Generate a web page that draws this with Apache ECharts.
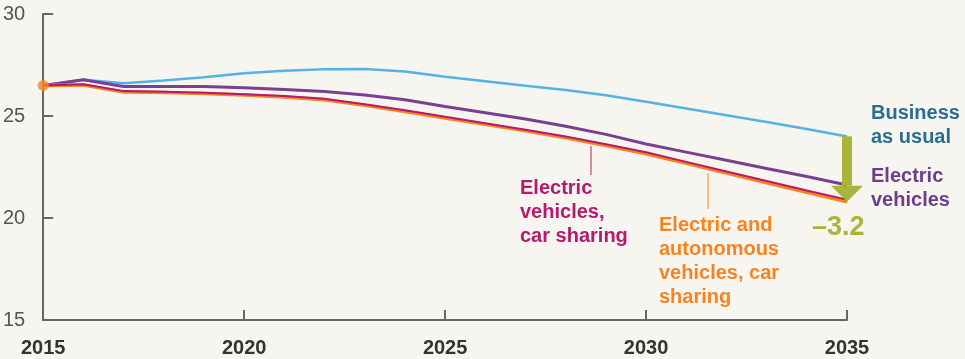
<!DOCTYPE html>
<html>
<head>
<meta charset="utf-8">
<script src="https://cdn.jsdelivr.net/npm/echarts@6/dist/echarts.min.js"></script>
<style>
  html, body { margin: 0; padding: 0; background: #f6f5ef; }
  #chart { width: 965px; height: 359px; }
</style>
</head>
<body>
<div id="chart"></div>
<script>
// Years on the horizontal axis
const years = [2015, 2016, 2017, 2018, 2019, 2020, 2021, 2022, 2023, 2024, 2025,
               2026, 2027, 2028, 2029, 2030, 2031, 2032, 2033, 2034, 2035];

// Scenario values
const businessAsUsual = [26.5, 26.78, 26.6, 26.74, 26.9, 27.1, 27.22, 27.29, 27.3, 27.18, 26.92,
                         26.7, 26.48, 26.28, 26.02, 25.7, 25.37, 25.04, 24.71, 24.36, 24.0];
const electricVehicles = [26.5, 26.78, 26.45, 26.45, 26.45, 26.38, 26.3, 26.2, 26.03, 25.8, 25.47,
                          25.16, 24.85, 24.5, 24.1, 23.63, 23.23, 22.83, 22.43, 22.03, 21.62];
const evCarSharing = [26.5, 26.56, 26.22, 26.19, 26.14, 26.07, 25.98, 25.85, 25.58, 25.28, 24.96,
                      24.65, 24.33, 23.99, 23.62, 23.22, 22.75, 22.28, 21.81, 21.35, 20.9];
const evAvCarSharing = [26.5, 26.52, 26.18, 26.15, 26.1, 26.03, 25.93, 25.8, 25.52, 25.22, 24.9,
                        24.59, 24.27, 23.93, 23.55, 23.15, 22.68, 22.2, 21.73, 21.26, 20.8];

const xTicks = [2015, 2020, 2025, 2030, 2035];
const yTicks = [15, 20, 25, 30];

const pair = (vals) => years.map((y, i) => [y, vals[i]]);
const last = years.length - 1;
const gap = evAvCarSharing[last] - businessAsUsual[last];
const gapText = '\u2013' + Math.abs(gap).toFixed(1);

const FONT = '"Liberation Sans", Arial, Helvetica, sans-serif';
const chart = echarts.init(document.getElementById('chart'));

chart.setOption({
  backgroundColor: '#f6f5ef',
  animation: false,
  grid: { left: 43, right: 118, top: 14, bottom: 39 },
  xAxis: {
    type: 'value', min: 2015, max: 2035, interval: 5,
    axisLine: { lineStyle: { color: '#666', width: 2 } },
    axisTick: { inside: true, length: 10, lineStyle: { color: '#666', width: 2 } },
    splitLine: { show: false },
    axisLabel: {
      margin: 18, fontFamily: FONT, fontSize: 20, fontWeight: 'bold', color: '#333',
      formatter: v => xTicks.includes(v) ? String(v) : ''
    }
  },
  yAxis: {
    type: 'value', min: 15, max: 30, interval: 5,
    axisLine: { show: true, lineStyle: { color: '#666', width: 2 } },
    axisTick: { show: true, inside: true, length: 10, lineStyle: { color: '#666', width: 2 } },
    splitLine: { show: false },
    axisLabel: {
      margin: 18, fontFamily: FONT, fontSize: 20, color: '#555',
      formatter: v => yTicks.includes(v) ? String(v) : ''
    }
  },
  series: [
    { type: 'line', data: pair(businessAsUsual), showSymbol: false, z: 2,
      lineStyle: { color: '#55b2e4', width: 2.5 } },
    { type: 'line', data: pair(electricVehicles), showSymbol: false, z: 3,
      lineStyle: { color: '#7a4090', width: 3 } },
    { type: 'line', data: pair(evAvCarSharing), showSymbol: false, z: 4,
      lineStyle: { color: '#f7841f', width: 3.5 } },
    { type: 'line', data: pair(evCarSharing), showSymbol: false, z: 5,
      lineStyle: { color: '#b51a6c', width: 2 } },
    { type: 'scatter', data: [[years[0], evAvCarSharing[0]]], symbolSize: 11, z: 6,
      itemStyle: { color: '#f7841f' } },
    {
      // Downward arrow from business-as-usual to the lowest scenario in the final year
      type: 'custom', z: 7,
      data: [[years[last], businessAsUsual[last], evAvCarSharing[last]]],
      renderItem: (params, api) => {
        const top = api.coord([api.value(0), api.value(1)]);
        const tip = api.coord([api.value(0), api.value(2)]);
        const headH = 16, headW = 16, barW = 5;
        const x = top[0];
        return {
          type: 'group',
          children: [
            { type: 'rect', shape: { x: x - barW, y: top[1], width: barW * 2, height: tip[1] - headH - top[1] },
              style: { fill: '#a9b537' } },
            { type: 'polygon', shape: { points: [[x - headW, tip[1] - headH], [x + headW, tip[1] - headH], [x, tip[1]]] },
              style: { fill: '#a9b537' } }
          ]
        };
      }
    }
  ],
  graphic: [
    { type: 'text', left: 871, top: 101, style: { text: 'Business\nas usual', fill: '#2c6d8d',
      font: 'bold 20px ' + FONT, lineHeight: 24 } },
    { type: 'text', left: 871, top: 164, style: { text: 'Electric\nvehicles', fill: '#6d3d8b',
      font: 'bold 20px ' + FONT, lineHeight: 24 } },
    { type: 'text', left: 812, top: 214, style: { text: gapText, fill: '#a9b537',
      font: 'bold 27px ' + FONT, lineHeight: 27 } },
    { type: 'text', left: 520, top: 176, style: { text: 'Electric\nvehicles,\ncar sharing', fill: '#b51a6c',
      font: 'bold 20px ' + FONT, lineHeight: 24 } },
    { type: 'text', left: 659, top: 213, style: { text: 'Electric and\nautonomous\nvehicles, car\nsharing', fill: '#f7841f',
      font: 'bold 20px ' + FONT, lineHeight: 24 } },
    { type: 'line', shape: { x1: 591, y1: 146, x2: 591, y2: 175 }, style: { stroke: '#b51a6c', lineWidth: 1 } },
    { type: 'line', shape: { x1: 708, y1: 173, x2: 708, y2: 209 }, style: { stroke: '#f7841f', lineWidth: 1 } }
  ]
});
</script>
</body>
</html>
